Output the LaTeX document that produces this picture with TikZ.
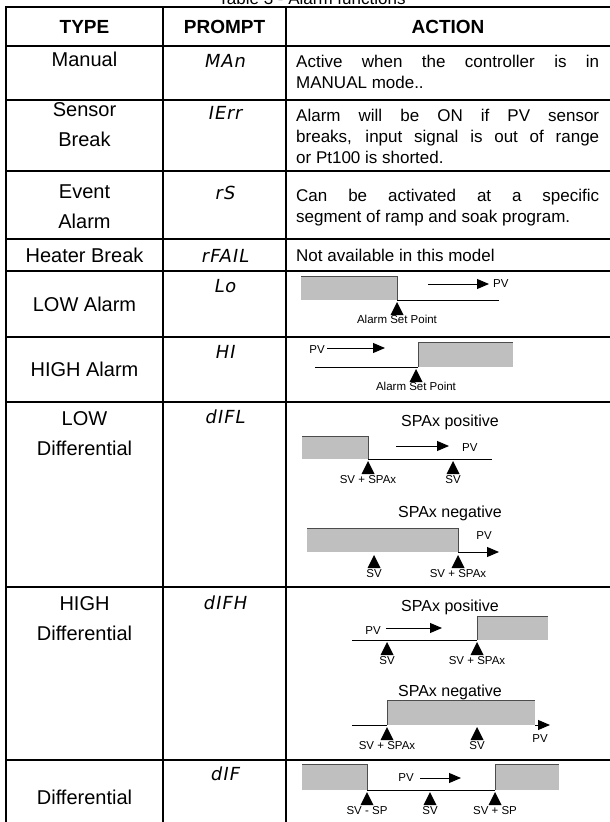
\documentclass[tikz,border=0pt]{standalone}
\usepackage{fontspec}
\setmainfont{Liberation Sans}
\newfontfamily\segfont[FakeSlant=0.18,LetterSpace=5]{DejaVu Sans}
\usetikzlibrary{calc,arrows.meta}
\hbadness=10000

\begin{document}
\begin{tikzpicture}[x=1pt,y=-1pt,
    every node/.append style={inner sep=0pt,black},
    rule/.style={line width=1.6pt},
    zone/.style={fill=black!25},
    rim/.style={draw=black!70,line width=0.9pt},
    base/.style={line width=0.9pt},
    pv/.style={line width=0.9pt,-{Triangle[length=12pt,width=10pt]}},
    head/.style={font=\fontsize{19}{22}\selectfont\bfseries},
    typ/.style={font=\fontsize{20}{30}\selectfont,align=center},
    act/.style={font=\fontsize{17}{21}\selectfont,text width=303pt,align=justify,anchor=north west},
    prm/.style={font=\segfont\fontsize{18}{20}\selectfont,anchor=north},
    sub/.style={font=\fontsize{16}{18}\selectfont},
    lbl/.style={font=\fontsize{11.5}{13}\selectfont},
    setpt/.pic={\fill (0,0) -- (-6.5,13) -- (6.5,13) -- cycle;}
  ]
  \clip (0,0) rectangle (610,822);
  \node[font=\fontsize{17}{19}\selectfont,anchor=base] (title) at (312,4.5) {Table 3 - Alarm functions};

  % rules of the table
  \foreach \y in {7,46,100,171,239,271,337,402,587,760}
    \draw[rule] (5,\y) -- (610,\y);
  \draw[rule] (6,7) -- (6,822);
  \draw[rule] (163,7) -- (163,822);
  \draw[rule] (286,7) -- (286,822);

  % header
  \node[head] (h-type) at (84.5,27) {TYPE};
  \node[head] (h-prompt) at (224.5,27) {PROMPT};
  \node[head] (h-action) at (448,27) {ACTION};

  % text rows
  \node[typ,anchor=north] (t-man) at (84.5,52) {Manual};
  \node[prm] (p-man) at (224.5,54) {MAn};
  \node[act] (a-man) at (296,55) {Active when the controller is in\linebreak MANUAL mode..};

  \node[typ,anchor=north] (t-sen) at (84.5,102) {Sensor\\Break};
  \node[prm] (p-sen) at (224.5,106) {IErr};
  \node[act] (a-sen) at (296,109) {Alarm will be ON if PV sensor\linebreak breaks, input signal is out of range\linebreak or Pt100 is shorted.};

  \node[typ,anchor=north] (t-evt) at (84.5,185) {Event\\Alarm};
  \node[prm] (p-evt) at (224.5,186) {rS};
  \node[act] (a-evt) at (296,189) {Can be activated at a specific\linebreak segment of ramp and soak program.};

  \node[typ] (t-htr) at (84.5,255) {Heater Break};
  \node[prm,anchor=center] (p-htr) at (224.5,256) {rFAIL};
  \node[act,anchor=west] (a-htr) at (296,255) {Not available in this model};

  \node[typ] (t-lo) at (84.5,304) {LOW Alarm};
  \node[prm] (p-lo) at (224.5,279) {Lo};
  \node[typ] (t-hi) at (84.5,369) {HIGH Alarm};
  \node[prm] (p-hi) at (224.5,345) {HI};
  \node[typ,anchor=north] (t-ldf) at (84.5,411) {LOW\\Differential};
  \node[prm] (p-ldf) at (224.5,410) {dIFL};
  \node[typ,anchor=north] (t-hdf) at (84.5,596) {HIGH\\Differential};
  \node[prm] (p-hdf) at (224.5,596) {dIFH};
  \node[typ] (t-dif) at (84.5,797) {Differential};
  \node[prm] (p-dif) at (224.5,767) {dIF};

  % LOW alarm
  \fill[zone] (301,276) rectangle (397,300);
  \draw[rim] (301,276) -- (397,276) -- (397,300);
  \draw[base] (397,300) -- (499,300);
  \coordinate (lo-a) at (428,284);
  \node[lbl,anchor=west] (lo-pv) at (493,284) {PV};
  \draw[pv] (lo-a) -- ($(lo-pv.west)+(-4,0)$);
  \pic at (397,302) {setpt};
  \node[lbl,anchor=north] (lo-asp) at (397,315) {Alarm Set Point};

  % HIGH alarm
  \node[lbl,anchor=east] (hi-pv) at (325,350) {PV};
  \draw[pv] ($(hi-pv.east)+(2,-2)$) -- ++(58,0);
  \draw[base] (315,367) -- (418,367);
  \fill[zone] (418,342) rectangle (513,367);
  \draw[rim] (418,367) -- (418,342) -- (513,342);
  \pic at (416,369) {setpt};
  \node[lbl,anchor=north] (hi-asp) at (416,382) {Alarm Set Point};

  % LOW differential
  \node[sub] (ldp-t) at (450,422) {SPAx positive};
  \fill[zone] (302,436) rectangle (368,459);
  \draw[rim] (302,436) -- (368,436) -- (368,459);
  \draw[base] (368,459) -- (492,459);
  \node[lbl,anchor=west] (ldp-pv) at (462,448) {PV};
  \draw[pv] (396,446) -- (449,446);
  \pic at (368,461) {setpt};
  \pic at (453,461) {setpt};
  \node[lbl,anchor=north] (ldp-s1) at (368,475) {SV + SPAx};
  \node[lbl,anchor=north] (ldp-s2) at (453,475) {SV};

  \node[sub] (ldn-t) at (450,513) {SPAx negative};
  \fill[zone] (307,528) rectangle (458,552);
  \draw[rim] (307,528) -- (458,528) -- (458,552);
  \draw[pv] (458,552) -- (499,552);
  \node[lbl] (ldn-pv) at (484,536) {PV};
  \pic at (374,555) {setpt};
  \pic at (458,555) {setpt};
  \node[lbl,anchor=north] (ldn-s1) at (374,569) {SV};
  \node[lbl,anchor=north] (ldn-s2) at (458,569) {SV + SPAx};

  % HIGH differential
  \node[sub] (hdp-t) at (450,607) {SPAx positive};
  \draw[base] (352,640) -- (477,640);
  \fill[zone] (477,616) rectangle (548,640);
  \draw[rim] (477,640) -- (477,616) -- (548,616);
  \node[lbl,anchor=east] (hdp-pv) at (381,631) {PV};
  \draw[pv] ($(hdp-pv.east)+(5,-3)$) -- (442,628);
  \pic at (387,642) {setpt};
  \pic at (477,642) {setpt};
  \node[lbl,anchor=north] (hdp-s1) at (387,656) {SV};
  \node[lbl,anchor=north] (hdp-s2) at (477,656) {SV + SPAx};

  \node[sub] (hdn-t) at (450,692) {SPAx negative};
  \draw[base] (352,725) -- (387,725);
  \fill[zone] (387,700) rectangle (535,725);
  \draw[rim] (387,725) -- (387,700) -- (535,700);
  \draw[pv] (535,725) -- (550,725);
  \node[lbl] (hdn-pv) at (540,739) {PV};
  \pic at (387,727) {setpt};
  \pic at (477,727) {setpt};
  \node[lbl,anchor=north] (hdn-s1) at (387,741) {SV + SPAx};
  \node[lbl,anchor=north] (hdn-s2) at (477,741) {SV};

  % differential
  \fill[zone] (302,764) rectangle (367,790);
  \draw[rim] (302,764) -- (367,764) -- (367,790);
  \draw[base] (367,790) -- (495,790);
  \fill[zone] (495,764) rectangle (559,790);
  \draw[rim] (495,790) -- (495,764) -- (559,764);
  \node[lbl,anchor=east] (dif-pv) at (414,778) {PV};
  \draw[pv] ($(dif-pv.east)+(6,0)$) -- (461,778);
  \pic at (367,792) {setpt};
  \pic at (430,792) {setpt};
  \pic at (495,792) {setpt};
  \node[lbl,anchor=north] (dif-s1) at (367,806) {SV - SP};
  \node[lbl,anchor=north] (dif-s2) at (430,806) {SV};
  \node[lbl,anchor=north] (dif-s3) at (495,806) {SV + SP};
\end{tikzpicture}
\end{document}
